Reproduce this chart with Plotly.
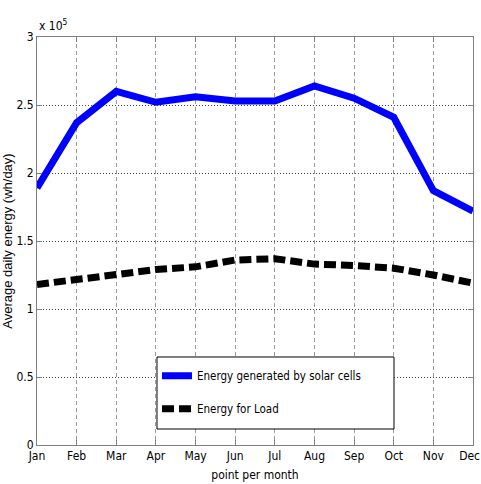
import plotly.graph_objects as go

months = ["Jan", "Feb", "Mar", "Apr", "May", "Jun", "Jul", "Aug", "Sep", "Oct", "Nov", "Dec"]
# Average daily energy, in units of 1e5 wh/day
solar = [1.89, 2.37, 2.60, 2.52, 2.56, 2.53, 2.53, 2.64, 2.55, 2.41, 1.87, 1.72]
load = [1.18, 1.22, 1.25, 1.29, 1.31, 1.36, 1.37, 1.33, 1.32, 1.30, 1.25, 1.19]
y_ticks = [0, 0.5, 1, 1.5, 2, 2.5, 3]
y_tick_text = ["0", "0.5", "1", "1.5", "2", "2.5", "3"]

NARROW = "DejaVu Sans Condensed, Liberation Sans Narrow, Arial Narrow, sans-serif"
x_idx = list(range(len(months)))
# keep the last month label inside the page edge
month_text = months[:-1] + [months[-1] + "\u00a0\u00a0"]

fig = go.Figure()
fig.add_trace(go.Scatter(
    x=x_idx, y=solar, mode="lines", name="Energy generated by solar cells",
    line=dict(color="#0000ff", width=7), legendgroup="a",
))
fig.add_trace(go.Scatter(
    x=x_idx, y=load, mode="lines", name="Energy for Load",
    line=dict(color="#000000", width=7, dash="12px,5px"), legendgroup="b",
))

axis_common = dict(
    showline=True, linecolor="#808080", linewidth=1, mirror="allticks",
    ticks="inside", ticklen=5, tickcolor="#808080",
    showgrid=True, gridwidth=1,
    zeroline=False, automargin=False, ticklabeloverflow="allow",
)

fig.update_xaxes(
    range=[0, 11], tickvals=x_idx, ticktext=month_text,
    gridcolor="#9a9a9a", griddash="4px,3px",
    tickfont=dict(family=NARROW, size=12, color="#000000"),
    title=dict(text="point per month", font=dict(family=NARROW, size=12, color="#000"), standoff=8),
    **axis_common,
)
fig.update_yaxes(
    range=[0, 3], tickvals=y_ticks, ticktext=y_tick_text,
    gridcolor="#444444", griddash="1px,2px",
    tickfont=dict(family=NARROW, size=12, color="#000000"),
    title=dict(text="Average daily energy (wh/day)", font=dict(family="Liberation Sans, Arial, sans-serif", size=13, color="#000"), standoff=8),
    **axis_common,
)

fig.add_annotation(
    text="x 10<sup>5</sup>", xref="paper", yref="paper", x=0, y=1.0,
    xanchor="left", yanchor="bottom", showarrow=False, yshift=2,
    font=dict(family=NARROW, size=12, color="#000"),
)

# legend frame
fig.add_shape(
    type="rect", xref="paper", yref="paper",
    x0=0.2752, x1=0.8188, y0=0.0392, y1=0.2157,
    line=dict(color="#000000", width=1), fillcolor="#ffffff", layer="above",
)

fig.update_layout(
    width=481, height=484,
    margin=dict(l=37, r=8, t=37, b=39),
    paper_bgcolor="#ffffff", plot_bgcolor="#ffffff",
    showlegend=True,
    legend=dict(
        x=0.2752, y=0.205, xanchor="left", yanchor="top",
        bgcolor="rgba(0,0,0,0)", borderwidth=0,
        font=dict(family=NARROW, size=11.5, color="#000"),
        tracegroupgap=14, itemwidth=30,
    ),
)

fig.write_html("out.html")
